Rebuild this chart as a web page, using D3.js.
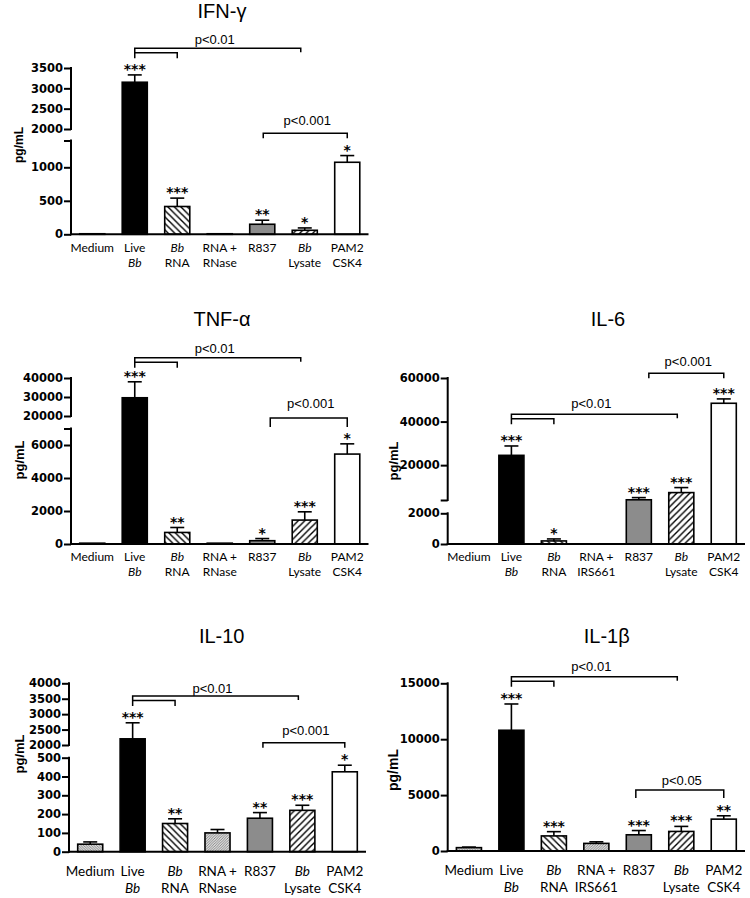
<!DOCTYPE html>
<html><head><meta charset="utf-8">
<script src="https://cdn.jsdelivr.net/npm/d3@7"></script>
<style>body{margin:0;background:#fff} svg{display:block}</style>
</head><body>
<svg id="chart" width="750" height="898"></svg>
<script>
// ---------- DATA ----------
const categoriesA = ["Medium", "Live Bb", "Bb RNA", "RNA + RNase", "R837", "Bb Lysate", "PAM2 CSK4"];
const categoriesB = ["Medium", "Live Bb", "Bb RNA", "RNA + IRS661", "R837", "Bb Lysate", "PAM2 CSK4"];

const ifngMeans  = [8, 3150, 415, 8, 150, 60, 1075];
const ifngErrors = [0, 180, 125, 0, 60, 35, 100];
const ifngStars  = ["", "***", "***", "", "**", "*", "*"];
const ifngTicks  = [0, 500, 1000, 2000, 2500, 3000, 3500];

const tnfMeans  = [50, 29600, 700, 50, 200, 1450, 5450];
const tnfErrors = [0, 8400, 300, 0, 130, 500, 620];
const tnfStars  = ["", "***", "**", "", "*", "***", "*"];
const tnfTicks  = [0, 2000, 4000, 6000, 20000, 30000, 40000];

const il6Means  = [0, 24500, 200, 0, 4100, 7400, 48400];
const il6Errors = [0, 4300, 130, 0, 1000, 2300, 2000];
const il6Stars  = ["", "***", "*", "", "***", "***", "***"];
const il6Ticks  = [0, 2000, 20000, 40000, 60000];

const il10Means  = [40, 2200, 150, 100, 178, 220, 425];
const il10Errors = [12, 520, 25, 18, 30, 27, 35];
const il10Stars  = ["", "***", "**", "", "**", "***", "*"];
const il10Ticks  = [0, 100, 200, 300, 400, 500, 2000, 2500, 3000, 3500, 4000];

const il1bMeans  = [300, 10800, 1350, 680, 1450, 1750, 2850];
const il1bErrors = [50, 2350, 380, 140, 380, 450, 300];
const il1bStars  = ["", "***", "***", "", "***", "***", "**"];
const il1bTicks  = [0, 5000, 10000, 15000];

const bracketsMain = {from: "Live Bb", inner: "Bb RNA", to: "Bb Lysate", label: "p<0.01"};
const bracketR837_001 = {from: "R837", to: "PAM2 CSK4", label: "p<0.001"};
const bracketR837_05  = {from: "R837", to: "PAM2 CSK4", label: "p<0.05"};

// ---------- LAYOUT ----------
const panels = [
  {title: "IFN-γ", tx: 222, ty: 18, cats: categoriesA, means: ifngMeans, errs: ifngErrors, stars: ifngStars,
   ticks: ifngTicks, endTicks: [1400], segs: [[0, 1400], [2000, 3500]],
   yDomain: [0, 1400, 2000, 3500], yRange: [234.3, 140.5, 129, 68], x0: 71, x1: 368.5,
   yl: {x: 19, y: 145, size: 12}, xl: {size: 12, d1: 13, d2: 28},
   main: {y: 48.3, ly: 39}, simple: {b: bracketR837_001, y: 133.3, leg: 5, dx: 1, ly: 120}},
  {title: "TNF-α", tx: 222, ty: 326, cats: categoriesA, means: tnfMeans, errs: tnfErrors, stars: tnfStars,
   ticks: tnfTicks, endTicks: [7000], segs: [[0, 7000], [20000, 40000]],
   yDomain: [0, 7000, 20000, 40000], yRange: [544, 428.5, 416, 378], x0: 71, x1: 368.5,
   yl: {x: 19, y: 460, size: 13}, xl: {size: 12, d1: 13, d2: 28},
   main: {y: 357.7, ly: 348}, simple: {b: bracketR837_001, y: 418, leg: 9, dx: 8, ly: 403}},
  {title: "IL-6", tx: 608, ty: 326, cats: categoriesB, means: il6Means, errs: il6Errors, stars: il6Stars,
   ticks: il6Ticks, endTicks: [4000], segs: [[0, 2000], [4000, 60000]],
   yDomain: [0, 2000, 4000, 60000], yRange: [544, 513.3, 500, 378], x0: 447.7, x1: 745,
   yl: {x: 393, y: 461, size: 13}, xl: {size: 12, d1: 13, d2: 28},
   main: {y: 414.3, ly: 403}, simple: {b: bracketR837_001, y: 373.3, leg: 5, dx: 10, ly: 361.7}},
  {title: "IL-10", tx: 221.7, ty: 643, cats: categoriesA, means: il10Means, errs: il10Errors, stars: il10Stars,
   ticks: il10Ticks, endTicks: [], segs: [[0, 500], [2000, 4000]],
   yDomain: [0, 500, 2000, 4000], yRange: [851.7, 757.7, 745, 683.3], x0: 69, x1: 366,
   yl: {x: 19, y: 754, size: 13}, xl: {size: 13.5, d1: 20, d2: 37},
   main: {y: 696, ly: 688.3}, simple: {b: bracketR837_001, y: 742.7, leg: 5, dx: 3, ly: 730.7}},
  {title: "IL-1β", tx: 606.7, ty: 643, cats: categoriesB, means: il1bMeans, errs: il1bErrors, stars: il1bStars,
   ticks: il1bTicks, endTicks: [], segs: [[0, 15000]],
   yDomain: [0, 15000], yRange: [851, 683.3], x0: 447.7, x1: 745,
   yl: {x: 393, y: 770, size: 14}, xl: {size: 13.5, d1: 19, d2: 36},
   main: {y: 676.7, ly: 666}, simple: {b: bracketR837_05, y: 790, leg: 8, dx: -3, ly: 780}}
];

const svg = d3.select("#chart");
const defs = svg.append("defs");
function hatch(id, dir, s, color, w) {
  const p = defs.append("pattern").attr("id", id).attr("patternUnits", "userSpaceOnUse")
    .attr("width", s).attr("height", s);
  p.append("rect").attr("width", s).attr("height", s).attr("fill", "#fff");
  const d = dir === "/"
    ? `M-1,1 l2,-2 M0,${s} l${s},${-s} M${s - 1},${s + 1} l2,-2`
    : `M-1,${s - 1} l2,2 M0,0 l${s},${s} M${s - 1},-1 l2,2`;
  p.append("path").attr("d", d).attr("stroke", color).attr("stroke-width", w).attr("fill", "none");
}
hatch("hBack", "\\", 6.5, "#000", 1.4);
hatch("hFwd", "/", 6.5, "#000", 1.4);
hatch("fBack", "\\", 2.6, "#777", 0.9);
hatch("fFwd", "/", 2.6, "#777", 0.9);
const fills = ["url(#fBack)", "#000", "url(#hBack)", "url(#fFwd)", "#8c8c8c", "url(#hFwd)", "#fff"];

const tickFont = "'DejaVu Sans', sans-serif";
const labFont = "Lato, 'Open Sans', sans-serif";
const arial = "'Liberation Sans', Arial, sans-serif";

panels.forEach(P => {
  const g = svg.append("g");
  const x = d3.scaleBand().domain(P.cats).range([P.x0, P.x1]).paddingInner(0.41).paddingOuter(0.205);
  const y = d3.scaleLinear().domain(P.yDomain).range(P.yRange);
  const cx = c => x(c) + x.bandwidth() / 2;
  const data = P.cats.map((c, i) => ({c, m: P.means[i], e: P.errs[i], s: P.stars[i], i}));

  // title
  g.append("text").attr("x", P.tx).attr("y", P.ty).attr("text-anchor", "middle")
    .attr("font-family", arial).attr("font-size", 20).text(P.title);

  // error bars
  const eg = g.append("g").attr("stroke", "#000").attr("stroke-width", 1.6);
  data.filter(d => d.e > 0).forEach(d => {
    eg.append("line").attr("x1", cx(d.c)).attr("x2", cx(d.c)).attr("y1", y(d.m)).attr("y2", y(d.m + d.e));
    eg.append("line").attr("x1", cx(d.c) - 7).attr("x2", cx(d.c) + 7).attr("y1", y(d.m + d.e)).attr("y2", y(d.m + d.e));
  });

  // bars
  g.append("g").selectAll("rect").data(data.filter(d => d.m > 0)).join("rect")
    .attr("x", d => x(d.c)).attr("width", x.bandwidth())
    .attr("y", d => y(d.m)).attr("height", d => y(0) - y(d.m))
    .attr("fill", d => fills[d.i]).attr("stroke", "#000").attr("stroke-width", 1.6);

  // stars
  g.append("g").selectAll("text").data(data.filter(d => d.s)).join("text")
    .attr("x", d => cx(d.c)).attr("y", d => y(d.m + d.e) - 1)
    .attr("text-anchor", "middle").attr("font-family", tickFont).attr("font-weight", "bold")
    .attr("font-size", 14).text(d => d.s);

  // y axis segments
  const ag = g.append("g").attr("stroke", "#000").attr("stroke-width", 2);
  P.segs.forEach(s => {
    ag.append("line").attr("x1", P.x0).attr("x2", P.x0).attr("y1", y(s[0]) + 1).attr("y2", y(s[1]) - 1);
  });
  const axis = d3.axisLeft(y).tickValues(P.ticks).tickFormat(d3.format("d")).tickSize(7).tickPadding(1);
  const ax = g.append("g").attr("transform", `translate(${P.x0},0)`).call(axis);
  ax.select(".domain").remove();
  ax.selectAll(".tick line").attr("stroke-width", 2);
  ax.selectAll(".tick text").attr("font-family", tickFont).attr("font-weight", "bold").attr("font-size", 11.5).attr("fill", "#000");
  if (P.endTicks.length) {
    const ax2 = g.append("g").attr("transform", `translate(${P.x0},0)`)
      .call(d3.axisLeft(y).tickValues(P.endTicks).tickFormat("").tickSize(7));
    ax2.select(".domain").remove();
    ax2.selectAll(".tick line").attr("stroke-width", 2);
  }
  // x baseline
  g.append("line").attr("x1", P.x0 - 1).attr("x2", P.x1).attr("y1", y(0)).attr("y2", y(0))
    .attr("stroke", "#000").attr("stroke-width", 2);

  // y label
  g.append("text").attr("transform", `translate(${P.yl.x},${P.yl.y}) rotate(-90)`)
    .attr("text-anchor", "middle").attr("dy", "0.35em").attr("font-family", arial)
    .attr("font-weight", "bold").attr("font-size", P.yl.size).text("pg/mL");

  // x labels
  const xg = g.append("g").attr("font-family", labFont).attr("font-size", P.xl.size).attr("text-anchor", "middle");
  P.cats.forEach(c => {
    const words = c.split(" ");
    let lines;
    if (words.length === 1) lines = [c];
    else if (c.startsWith("RNA +")) lines = ["RNA +", words.slice(2).join(" ")];
    else lines = [words[0], words.slice(1).join(" ")];
    lines.forEach((ln, k) => {
      xg.append("text").attr("x", cx(c)).attr("y", y(0) + (k === 0 ? P.xl.d1 : P.xl.d2)).attr("dy", "0.35em")
        .attr("font-style", ln === "Bb" ? "italic" : "normal").text(ln);
    });
  });

  // brackets
  const bg = g.append("g").attr("stroke", "#000").attr("stroke-width", 1.5).attr("fill", "none");
  const M = P.main, a = cx(bracketsMain.from), b = cx(bracketsMain.inner), c2 = cx(bracketsMain.to) - 4;
  bg.append("path").attr("d", `M${a},${M.y + 10}V${M.y}H${c2}V${M.y + 4}`);
  bg.append("path").attr("d", `M${a},${M.y + 4.5}H${b}V${M.y + 10}`);
  g.append("text").attr("x", (a + c2) / 2 - 3).attr("y", M.ly).attr("dy", "0.35em").attr("text-anchor", "middle")
    .attr("font-family", arial).attr("font-size", 13).text(bracketsMain.label);
  const S = P.simple, sa = cx(S.b.from) + S.dx, sb = cx(S.b.to);
  bg.append("path").attr("d", `M${sa},${S.y + S.leg}V${S.y}H${sb}V${S.y + S.leg}`);
  g.append("text").attr("x", (sa + sb) / 2 + 2).attr("y", S.ly).attr("dy", "0.35em").attr("text-anchor", "middle")
    .attr("font-family", arial).attr("font-size", 13).text(S.b.label);
});
</script>
</body></html>
